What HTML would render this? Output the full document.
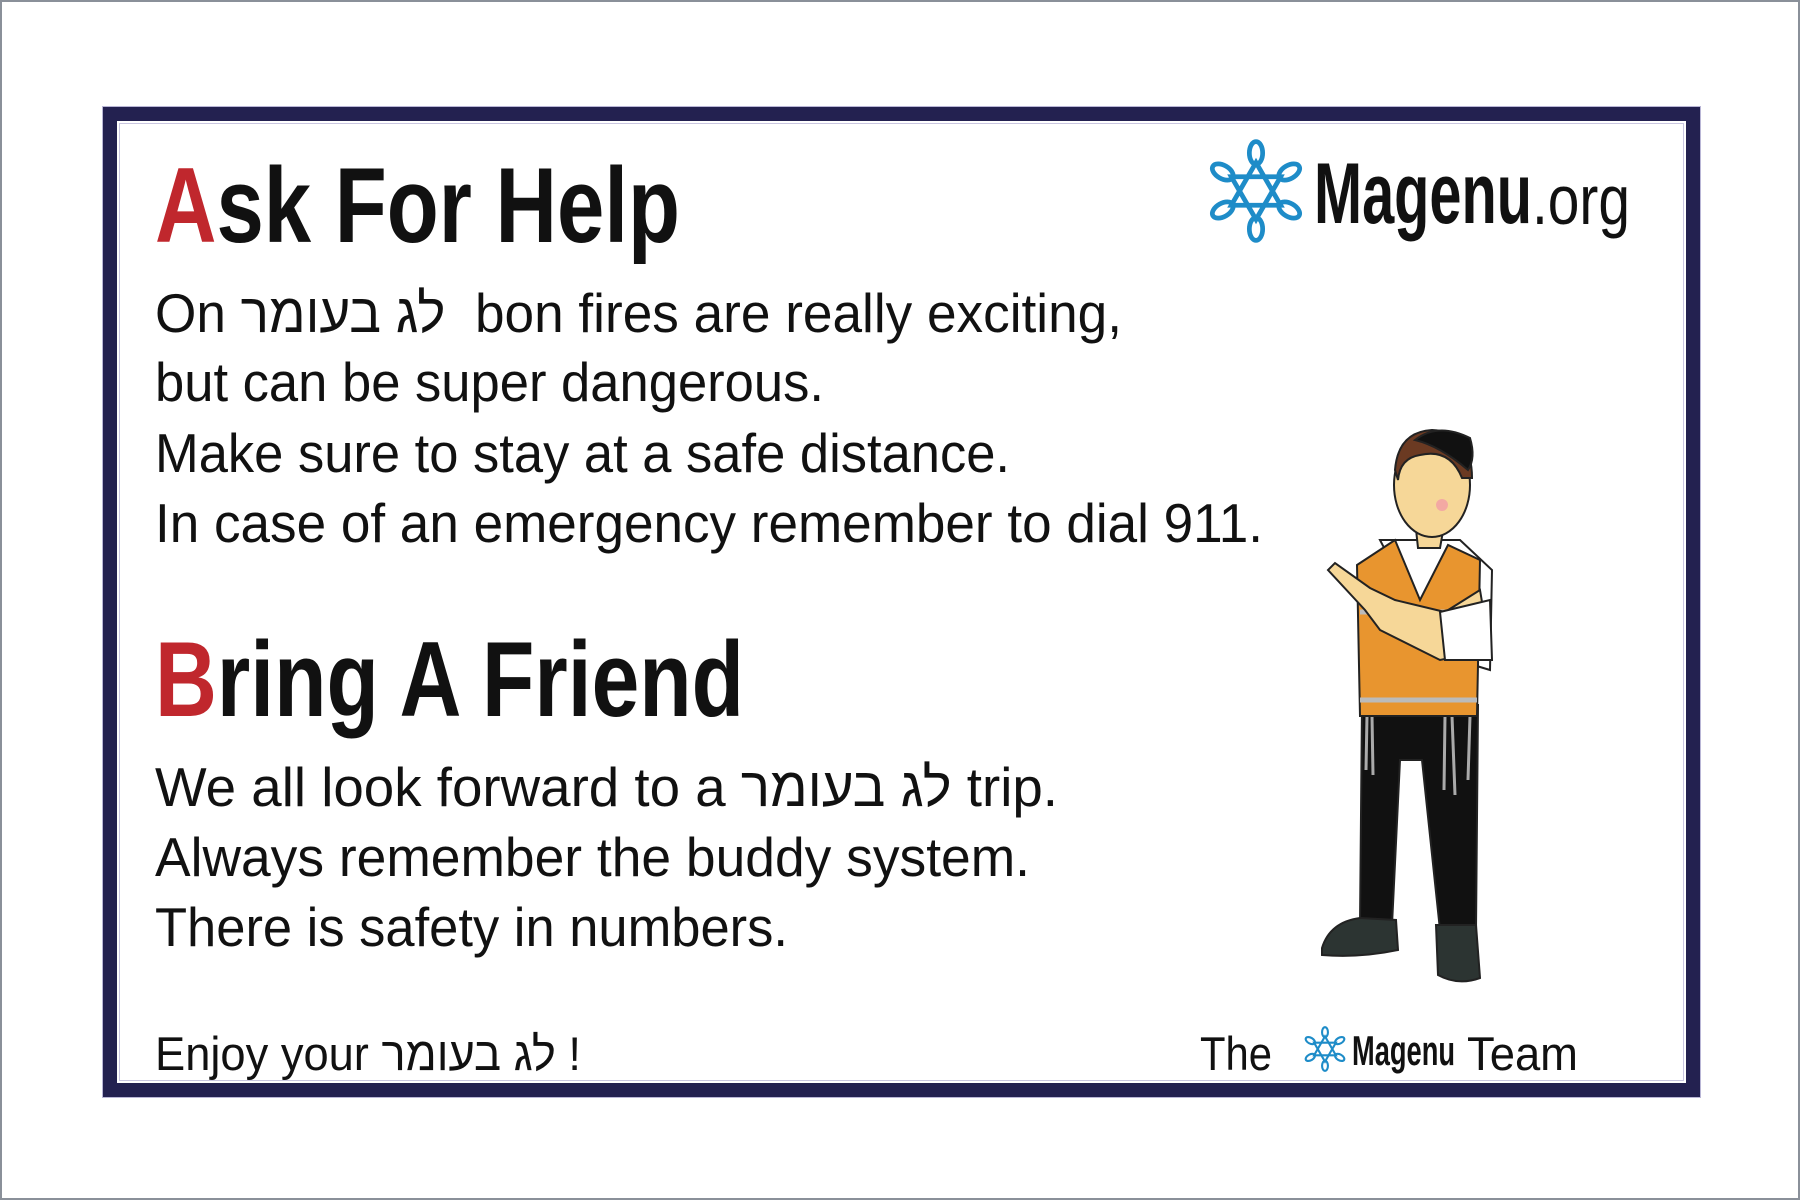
<!DOCTYPE html>
<html><head><meta charset="utf-8">
<style>
html,body{margin:0;padding:0;}
body{width:1800px;height:1200px;position:relative;background:#fff;overflow:hidden;font-family:"Liberation Sans","DejaVu Sans",sans-serif;color:#111;}
#frame{position:absolute;left:0;top:0;width:1796px;height:1196px;border:2px solid #8a9099;}
#card{position:absolute;left:103px;top:107px;width:1569px;height:962px;border:14px solid #232150;outline:1px solid #b9b6d6;}
#card-inner{position:absolute;left:2px;top:2px;right:2px;bottom:2px;border:1px solid #c9c6e0;}
.ln{position:absolute;left:155px;white-space:nowrap;line-height:1;transform-origin:0 0;}
.red{color:#c0272d;}
.b{font-weight:bold;}
</style></head>
<body>
<div id="frame"></div>
<div id="card"><div id="card-inner"></div></div>

<div class="ln b" data-base="243" data-fs="107" data-w="525"><span class="red">A</span>sk For Help</div>
<div class="ln" data-base="333" data-fs="55" data-w="967">On לג בעומר&nbsp; bon fires are really exciting,</div>
<div class="ln" data-base="402" data-fs="55" data-w="669">but can be super dangerous.</div>
<div class="ln" data-base="473" data-fs="55" data-w="855">Make sure to stay at a safe distance.</div>
<div class="ln" data-base="543" data-fs="55" data-w="1108">In case of an emergency remember to dial 911.</div>
<div class="ln b" data-base="717" data-fs="107" data-w="589"><span class="red">B</span>ring A Friend</div>
<div class="ln" data-base="807" data-fs="55" data-w="903">We all look forward to a לג בעומר trip.</div>
<div class="ln" data-base="877" data-fs="55" data-w="875">Always remember the buddy system.</div>
<div class="ln" data-base="947" data-fs="55" data-w="633">There is safety in numbers.</div>
<div class="ln" data-base="1070" data-fs="47" data-w="426">Enjoy your לג בעומר !</div>
<div class="ln" data-base="1070" data-fs="47" data-w="72" style="left:1200px">The</div>
<div class="ln b" data-base="1066" data-fs="42" data-w="103" style="left:1352px">Magenu</div>
<div class="ln" data-base="1070" data-fs="47" data-w="111" style="left:1467px">Team</div>
<div class="ln b" data-base="224" data-fs="86" data-w="218" style="left:1314px">Magenu</div>
<div class="ln" data-base="224" data-fs="70" data-w="98" style="left:1532px">.org</div>

<svg width="1800" height="1200" style="position:absolute;left:0;top:0">
  <defs>
    <g id="star" fill="none" stroke="#1e8cc8" stroke-width="5">
      <polygon points="0,-30 26,15 -26,15"/>
      <polygon points="0,30 26,-15 -26,-15"/>
      <ellipse cx="0" cy="-40" rx="7" ry="12"/>
      <ellipse cx="0" cy="40" rx="7" ry="12"/>
      <ellipse cx="35" cy="-20" rx="7" ry="12" transform="rotate(60 35 -20)"/>
      <ellipse cx="-35" cy="20" rx="7" ry="12" transform="rotate(60 -35 20)"/>
      <ellipse cx="35" cy="20" rx="7" ry="12" transform="rotate(-60 35 20)"/>
      <ellipse cx="-35" cy="-20" rx="7" ry="12" transform="rotate(-60 -35 -20)"/>
    </g>
  </defs>
  <g><use href="#star" transform="translate(1256,191) scale(0.95)"/></g>
  <g><use href="#star" transform="translate(1325,1049) scale(0.42)"/></g>

  <g stroke="#222" stroke-width="2">
    <!-- pants -->
    <path d="M1362,705 L1478,705 L1476,930 L1440,930 L1422,760 L1400,760 L1392,925 L1360,925 Z" fill="#111"/>
    <!-- shoes -->
    <path d="M1322,948 Q1330,922 1360,918 L1396,920 L1398,950 Q1360,958 1322,955 Z" fill="#2c3432"/>
    <path d="M1436,925 L1476,925 L1480,978 Q1458,986 1438,975 Z" fill="#2c3432"/>
    <!-- tzitzit -->
    <path d="M1367,716 L1366,770 M1372,716 L1373,775 M1445,716 L1444,790 M1452,716 L1455,795 M1470,716 L1468,780" stroke="#aaa" stroke-width="3"/>
    <!-- shirt -->
    <path d="M1380,540 L1460,540 L1492,570 L1490,670 L1440,655 Z" fill="#fff"/>
    <!-- vest -->
    <path d="M1357,565 L1395,540 L1420,600 L1448,545 L1480,560 L1477,716 L1360,716 Z" fill="#e8952f"/>
    <path d="M1360,612 L1477,612 M1360,700 L1477,700" stroke="#bbb" stroke-width="5"/>
    <!-- arm + pointing hand -->
    <path d="M1480,590 L1490,650 L1440,660 L1380,630 L1365,610 L1328,570 L1335,563 L1370,588 L1395,600 L1445,612 Z" fill="#f6d798"/>
    <path d="M1440,612 L1490,600 L1492,660 L1445,660 Z" fill="#fff"/>
    <!-- neck + head -->
    <path d="M1415,520 L1445,520 L1440,548 L1418,548 Z" fill="#f6d798"/>
    <ellipse cx="1432" cy="485" rx="38" ry="52" fill="#f6d798"/>
    <path d="M1395,470 Q1398,432 1432,430 Q1472,432 1472,478 L1462,478 Q1450,448 1420,455 Q1400,458 1398,480 Z" fill="#6b3a22"/>
    <path d="M1415,440 Q1438,422 1470,438 Q1476,458 1468,470 Q1440,446 1415,440 Z" fill="#111"/>
    <circle cx="1442" cy="505" r="6" fill="#f3a9a3" stroke="none"/>
  </g>
</svg>

<script>
document.querySelectorAll('.ln').forEach(function(el){
  var fs=+el.getAttribute('data-fs'), base=+el.getAttribute('data-base'), w=+el.getAttribute('data-w');
  el.style.fontSize=fs+'px';
  el.style.top=(base-0.8465*fs)+'px';
  var ow=el.getBoundingClientRect().width;
  if(ow>0) el.style.transform='scaleX('+(w/ow)+')';
});
</script>
</body></html>
